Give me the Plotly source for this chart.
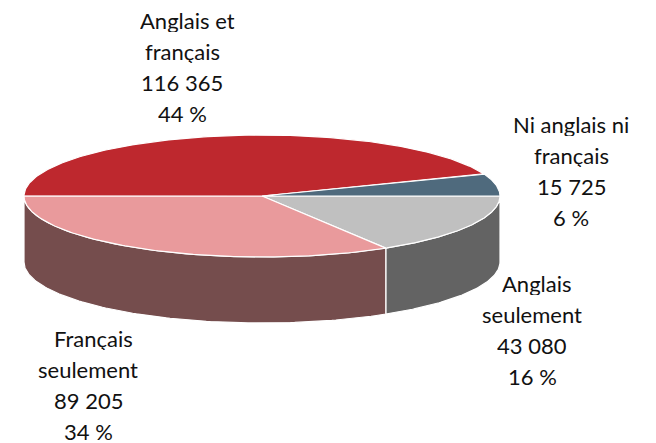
import numpy as np
import plotly.graph_objects as go

categories = ["Anglais seulement", "Français seulement", "Anglais et français", "Ni anglais ni français"]
values = [43080, 89205, 116365, 15725]
percents = ["16 %", "34 %", "44 %", "6 %"]
label_lines = [["Anglais", "seulement"], ["Français", "seulement"], ["Anglais et", "français"], ["Ni anglais ni", "français"]]
value_text = ["43 080", "89 205", "116 365", "15 725"]
top_colors = ["#C0C0C0", "#E99A9C", "#BE282E", "#4F6A7D"]
side_colors = ["#636363", "#754D4D", "#754D4D", "#4F6A7D"]
label_pos = [(532, 282.5), (88, 338), (182, 19.5), (571, 123.5)]
first_line_shift = [5, 5, 5, 0]
LINE_STEP = 31

CX, CY, RX, RY, DEPTH = 262, 196, 238, 61, 66

def edge(a):
    return CX + RX * np.cos(a), CY + RY * np.sin(a)

fig = go.Figure()
total = sum(values)
angles = np.concatenate([[0], np.cumsum(values) / total * 2 * np.pi])

# side walls (visible front half only)
for i in range(len(values)):
    a0, a1 = angles[i], min(angles[i + 1], np.pi)
    if a1 <= a0:
        continue
    t = np.linspace(a0, a1, 120)
    x, y = edge(t)
    fig.add_trace(go.Scatter(
        x=np.concatenate([x, x[::-1], x[:1]]),
        y=np.concatenate([y, y[::-1] + DEPTH, y[:1]]),
        mode="lines", fill="toself", fillcolor=side_colors[i],
        line=dict(color="white", width=1.2), hoverinfo="skip", showlegend=False))

# top faces
for i in range(len(values)):
    t = np.linspace(angles[i], angles[i + 1], 160)
    x, y = edge(t)
    fig.add_trace(go.Scatter(
        x=np.concatenate([[CX], x, [CX]]),
        y=np.concatenate([[CY], y, [CY]]),
        mode="lines", fill="toself", fillcolor=top_colors[i],
        line=dict(color="white", width=1.2), name=categories[i],
        hoverinfo="name", showlegend=False))

for i, (px, py) in enumerate(label_pos):
    for j, line in enumerate(label_lines[i] + [value_text[i], percents[i]]):
        fig.add_annotation(x=px, y=py + j * LINE_STEP, text=line, showarrow=False,
                           xanchor="center", yanchor="middle", height=24,
                           xshift=first_line_shift[i] if j == 0 else 0,
                           font=dict(family="Lato", size=22, color="#111111"))

# the page adds an 8 px body margin, so the figure covers pixels 8..656 / 8..443
fig.update_layout(
    width=648, height=435, autosize=False,
    margin=dict(l=0, r=0, t=0, b=0),
    paper_bgcolor="white", plot_bgcolor="white",
    xaxis=dict(range=[8, 656], visible=False, fixedrange=True),
    yaxis=dict(range=[443, 8], visible=False, fixedrange=True),
)
fig.write_html("out.html", config=dict(displayModeBar=False))
